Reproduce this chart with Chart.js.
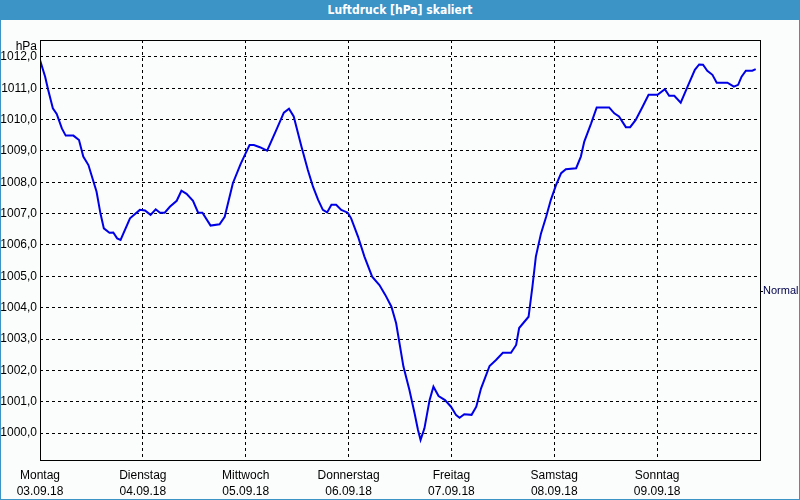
<!DOCTYPE html>
<html>
<head>
<meta charset="utf-8">
<script src="https://cdn.jsdelivr.net/npm/chart.js"></script>
<style>
    html, body { margin: 0; padding: 0; }
    body { width: 800px; height: 500px; overflow: hidden; }
    #frame {
        position: relative;
        width: 798px;
        height: 498px;
        border: 1px solid #3b93c6;
        background: #fbfdfc;
    }
    #title {
        height: 20px;
        margin-top: -1px;
        background: #3b93c6;
        color: #fff;
        font: bold 12px "DejaVu Sans Condensed", "DejaVu Sans", sans-serif;
        text-align: center;
        line-height: 20px;
    }
    #unit {
        position: absolute;
        left: 0;
        width: 36px;
        top: 38px;
        text-align: right;
        font: 12px "Liberation Sans", sans-serif;
        color: #000;
    }
    canvas { display: block; }
</style>
</head>
<body>
<div id="frame">
    <div id="title">Luftdruck [hPa] skaliert</div>
    <span id="unit">hPa</span>
    <canvas id="pressChart" width="798" height="478"></canvas>
</div>
<script>
// hours since Monday 03.09.18 00:00
const hours = [
    0, 1.2, 1.9, 3.0, 3.9, 5.1, 6.0, 7.8, 9.1, 10.1, 11.3, 13.2, 14.1, 14.9, 16.2, 17.1, 18.0, 18.8,
    21.0, 23.3, 24.5, 25.8, 27.0, 28.0, 29.1, 30.3, 31.9, 33.0, 34.2, 35.7, 36.9, 37.9, 39.8, 41.9,
    43.1, 45.0, 46.8, 48.0, 48.9, 49.9, 51.3, 53.0, 55.2, 56.9, 58.1, 59.2, 61.0, 62.5, 63.7, 64.9,
    66.0, 67.0, 68.0, 69.1, 70.3, 71.8, 72.6, 74.2, 75.7, 77.5, 79.2, 80.6, 82.0, 83.1, 84.8, 86.2,
    87.4, 88.2, 88.8, 89.7, 90.9, 91.8, 93.0, 94.5, 95.9, 97.1, 97.9, 99.0, 100.7, 101.8, 102.9,
    104.9, 106.4, 108.0, 109.9, 111.1, 111.8, 114.0, 114.9, 115.7, 116.9, 118.1, 119.2, 120.4,
    121.6, 122.7, 125.1, 126.2, 127.0, 128.6, 129.9, 132.8, 134.0, 135.1, 136.7, 137.7, 139.0,
    140.6, 142.0, 144.1, 145.8, 146.8, 148.0, 149.5, 151.1, 152.8, 153.8, 154.7, 155.7, 156.9,
    157.9, 160.4, 161.9, 162.9, 163.7, 164.7, 166.2, 167.0
];
const pressure = [
    1011.9, 1011.37, 1010.95, 1010.36, 1010.18, 1009.72, 1009.49, 1009.49, 1009.35, 1008.82, 1008.55,
    1007.70, 1007.01, 1006.53, 1006.39, 1006.40, 1006.21, 1006.16,
    1006.85, 1007.12, 1007.10, 1006.96, 1007.14, 1007.03, 1007.03, 1007.22, 1007.41, 1007.73,
    1007.63, 1007.41, 1007.03, 1007.03, 1006.62, 1006.66,
    1006.90, 1007.97, 1008.58, 1008.93, 1009.19, 1009.19, 1009.12, 1009.01, 1009.69, 1010.22,
    1010.35, 1010.10, 1009.14, 1008.39, 1007.86, 1007.44,
    1007.12, 1007.04, 1007.28, 1007.28, 1007.12, 1007.03, 1006.85, 1006.27, 1005.63, 1004.99,
    1004.72, 1004.40, 1004.03, 1003.50, 1002.12, 1001.37,
    1000.63, 1000.10, 999.78, 1000.15, 1001.05, 1001.48, 1001.18, 1001.05, 1000.84, 1000.57,
    1000.49, 1000.60, 1000.58, 1000.84, 1001.42,
    1002.14, 1002.33, 1002.56, 1002.56, 1002.81, 1003.35, 1003.71, 1004.67, 1005.63, 1006.37,
    1006.90, 1007.44, 1007.91,
    1008.29, 1008.42, 1008.45, 1008.82, 1009.30, 1009.88, 1010.39, 1010.39, 1010.20, 1010.10,
    1009.76, 1009.76, 1009.99,
    1010.41, 1010.79, 1010.79, 1010.97, 1010.76, 1010.76, 1010.54, 1011.05, 1011.59, 1011.76,
    1011.75, 1011.56, 1011.43,
    1011.18, 1011.18, 1011.05, 1011.11, 1011.37, 1011.56, 1011.56, 1011.61
];
const dayNames = ['Montag', 'Dienstag', 'Mittwoch', 'Donnerstag', 'Freitag', 'Samstag', 'Sonntag'];
const dayDates = ['03.09.18', '04.09.18', '05.09.18', '06.09.18', '07.09.18', '08.09.18', '09.09.18'];
const dayTicks = [0, 24, 48, 72, 96, 120, 144, 168];
const pressureTicks = [1000, 1001, 1002, 1003, 1004, 1005, 1006, 1007, 1008, 1009, 1010, 1011, 1012];
const normalPressure = 1004.53;

const Y_MIN = 999.14;
const Y_MAX = 1012.54;

// solid frame round the plot area
const frameBox = {
    id: 'frameBox',
    afterDraw(chart) {
        const { ctx, chartArea: a } = chart;
        ctx.save();
        ctx.strokeStyle = '#000';
        ctx.lineWidth = 1;
        ctx.setLineDash([]);
        ctx.strokeRect(Math.round(a.left) + 0.5, Math.round(a.top) + 0.5,
            Math.round(a.right - a.left), Math.round(a.bottom - a.top));
        ctx.restore();
    }
};

const labelFont = { family: '"Liberation Sans", sans-serif', size: 12 };

new Chart(document.getElementById('pressChart'), {
    type: 'line',
    data: {
        datasets: [{
            data: hours.map((h, i) => ({ x: h, y: pressure[i] })),
            borderColor: '#0000e6',
            borderWidth: 2,
            pointRadius: 0,
            tension: 0,
            fill: false
        }]
    },
    options: {
        responsive: false,
        devicePixelRatio: 1,
        animation: false,
        layout: { padding: { top: 20, left: 0, right: 0, bottom: 0 } },
        plugins: {
            legend: { display: false },
            tooltip: { enabled: false }
        },
        scales: {
            x: {
                type: 'linear',
                min: 0,
                max: 168,
                afterBuildTicks: (s) => { s.ticks = dayTicks.map(v => ({ value: v })); },
                afterFit: (s) => { s.height = 38; },
                grid: {
                    color: (c) => (c.tick && (c.tick.value === 0 || c.tick.value === 168)) ? 'rgba(0,0,0,0)' : '#000',
                    drawTicks: false
                },
                border: { display: false, dash: [3, 3] },
                ticks: {
                    autoSkip: false,
                    maxRotation: 0,
                    padding: 8,
                    color: '#000',
                    font: { ...labelFont, lineHeight: 1.3 },
                    callback: (v, i) => i < dayNames.length ? [dayNames[i], dayDates[i]] : ''
                }
            },
            y: {
                min: Y_MIN,
                max: Y_MAX,
                afterBuildTicks: (s) => { s.ticks = pressureTicks.map(v => ({ value: v })); },
                afterFit: (s) => { s.width = 39; },
                grid: { color: '#000', drawTicks: false },
                border: { display: false, dash: [3, 3] },
                ticks: {
                    padding: 3,
                    color: '#000',
                    font: labelFont,
                    callback: (v) => v.toFixed(1).replace('.', ',')
                }
            },
            y2: {
                position: 'right',
                min: Y_MIN,
                max: Y_MAX,
                afterBuildTicks: (s) => { s.ticks = [{ value: normalPressure }]; },
                afterFit: (s) => { s.width = 39; },
                grid: { drawOnChartArea: false, drawTicks: true, tickLength: 3, color: '#000' },
                border: { display: false },
                ticks: {
                    padding: 0,
                    color: '#00004a',
                    font: { family: '"Liberation Sans", sans-serif', size: 11 },
                    callback: () => 'Normal'
                }
            }
        }
    },
    plugins: [frameBox]
});
</script>
</body>
</html>
